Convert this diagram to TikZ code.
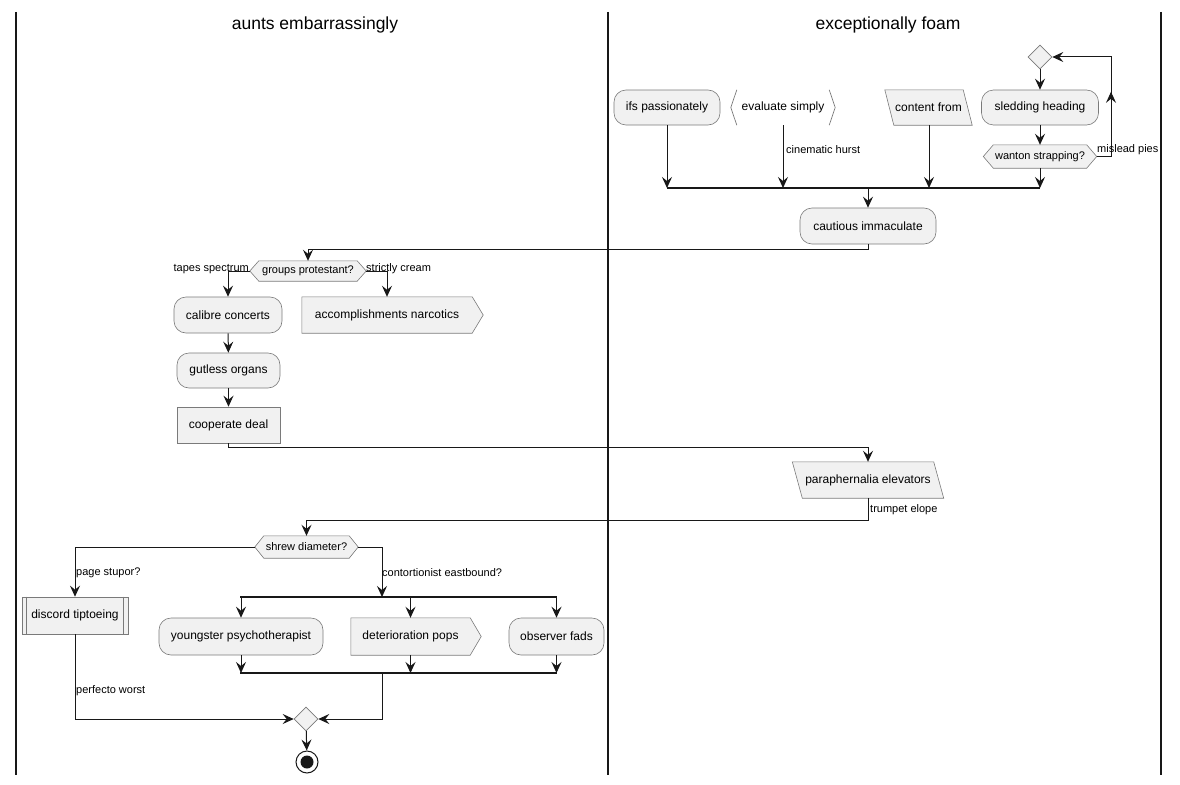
\documentclass[tikz,border=0pt]{standalone}
\usepackage{fontspec}
\setmainfont{Liberation Sans}
\usetikzlibrary{arrows.meta,shapes.geometric,backgrounds,decorations.markings,calc}
\definecolor{bg}{HTML}{F1F1F1}
\definecolor{lc}{HTML}{181818}
\definecolor{bd}{HTML}{7A7A7A}
\begin{document}
\begin{tikzpicture}[x=1pt,y=-1pt,
 >={Stealth[length=11pt,width=10pt,inset=4pt]},
 conn/.style={draw=lc, line width=1pt},
 arr/.style={conn,->},
 bar/.style={draw=lc, line width=2.2pt},
 lane/.style={draw=lc, line width=1.4pt},
 txt/.style={font=\fontsize{12}{14}\selectfont, inner sep=0pt, text=black},
 htxt/.style={font=\fontsize{11}{13}\selectfont, inner sep=0pt, text=black},
 lbl/.style={font=\fontsize{11}{13}\selectfont, inner sep=0pt, text=black},
 ttl/.style={font=\fontsize{17.5}{20}\selectfont, inner sep=0pt, text=black},
 act/.style={txt, draw=bd, fill=bg, line width=0.6pt, rounded corners=12pt},
 rbox/.style={txt, draw=bd, fill=bg, line width=0.6pt},
 plain/.style={txt},
 shp/.style={draw=bd, fill=bg, line width=0.6pt},
 dia/.style={diamond, draw=bd, fill=bg, line width=0.6pt, minimum width=24pt, minimum height=24pt, inner sep=0pt},
 endn/.style={circle, draw=lc, line width=1pt, fill=white, minimum size=22pt, inner sep=0pt,
   path picture={\fill[lc] (path picture bounding box.center) circle (6.5pt);}},
]
\useasboundingbox (0,0) rectangle (1180,784);

% lanes
\draw[lane] (16,12) -- (16,775);
\draw[lane] (608,12) -- (608,775);
\draw[lane] (1161,12) -- (1161,775);
\node[ttl] (t1) at (315,25) {aunts embarrassingly};
\node[ttl] (t2) at (888,25) {exceptionally foam};

% right lane nodes
\node[dia] (m1) at (1040,57) {};
\node[act, minimum width=106pt, minimum height=35pt] (ifs) at (667,107.5) {ifs passionately};
\node[plain, minimum width=104pt, minimum height=35pt] (eval) at (783,107.5) {evaluate simply};
\node[plain, minimum width=87pt, minimum height=35pt] (cont) at (928.5,107.5) {content from};
\node[act, minimum width=117pt, minimum height=35pt] (sled) at (1040,107.5) {sledding heading};
\node[htxt, minimum width=113pt, minimum height=23pt] (want) at (1040,156.5) {wanton strapping?};
\node[act, minimum width=136pt, minimum height=36pt] (caut) at (868,226) {cautious immaculate};
\node[plain, minimum width=151pt, minimum height=36pt] (para) at (868,480) {paraphernalia elevators};

% left lane nodes
\node[htxt, minimum width=116pt, minimum height=20pt] (grp) at (308,271) {groups protestant?};
\node[act, minimum width=108pt, minimum height=36pt] (cal) at (228,315) {calibre concerts};
\node[plain, minimum width=170pt, minimum height=36pt] (acc) at (387,315) {accomplishments narcotics};
\node[act, minimum width=103pt, minimum height=35pt] (gut) at (228.5,370.5) {gutless organs};
\node[rbox, minimum width=103pt, minimum height=36pt] (coop) at (228.5,425) {cooperate deal};
\node[htxt, minimum width=103pt, minimum height=22pt] (shrew) at (306.5,547) {shrew diameter?};
\node[rbox, minimum width=106pt, minimum height=37pt] (disc) at (75,615.5) {discord tiptoeing};
\node[act, minimum width=164pt, minimum height=37pt] (young) at (241,636.5) {youngster psychotherapist};
\node[plain, minimum width=119pt, minimum height=37pt] (det) at (410.5,636.5) {deterioration pops};
\node[act, minimum width=95pt, minimum height=37pt] (obs) at (556.5,636.5) {observer fads};
\node[dia] (m2) at (306,719) {};
\node[endn] (end) at (307,762) {};

% custom shapes on background
\begin{scope}[on background layer]
 % brackets for evaluate simply
 \draw[bd, line width=0.7pt] ([xshift=6pt]eval.north west) -- (eval.west) -- ([xshift=6pt]eval.south west);
 \draw[bd, line width=0.7pt] ([xshift=-6pt]eval.north east) -- (eval.east) -- ([xshift=-6pt]eval.south east);
 % parallelograms
 \draw[shp] (cont.north west) -- ([xshift=-9pt]cont.north east) -- (cont.south east) -- ([xshift=9pt]cont.south west) -- cycle;
 \draw[shp] (para.north west) -- ([xshift=-10pt]para.north east) -- (para.south east) -- ([xshift=10pt]para.south west) -- cycle;
 % hexagons
 \draw[shp] (want.west) -- ([xshift=10pt]want.north west) -- ([xshift=-10pt]want.north east) -- (want.east) -- ([xshift=-10pt]want.south east) -- ([xshift=10pt]want.south west) -- cycle;
 \draw[shp] (grp.west) -- ([xshift=9pt]grp.north west) -- ([xshift=-9pt]grp.north east) -- (grp.east) -- ([xshift=-9pt]grp.south east) -- ([xshift=9pt]grp.south west) -- cycle;
 \draw[shp] (shrew.west) -- ([xshift=9pt]shrew.north west) -- ([xshift=-9pt]shrew.north east) -- (shrew.east) -- ([xshift=-9pt]shrew.south east) -- ([xshift=9pt]shrew.south west) -- cycle;
 % signal shapes
 \draw[shp] (acc.north west) -- (acc.north east) -- ([xshift=11pt]acc.east) -- (acc.south east) -- (acc.south west) -- cycle;
 \draw[shp] (det.north west) -- (det.north east) -- ([xshift=11pt]det.east) -- (det.south east) -- (det.south west) -- cycle;
\end{scope}
% subroutine inner lines
\draw[bd, line width=0.6pt] ([xshift=5pt]disc.north west) -- ([xshift=5pt]disc.south west);
\draw[bd, line width=0.6pt] ([xshift=-5pt]disc.north east) -- ([xshift=-5pt]disc.south east);

% bars
\coordinate (f1a) at (667,188);
\coordinate (f1b) at (1040,188);
\coordinate (f1c) at (868,188);
\draw[bar] (f1a) -- (f1b);
\coordinate (f2a) at (240,597);
\coordinate (f2b) at (557,597);
\coordinate (f2c) at (382,597);
\draw[bar] (f2a) -- (f2b);
\coordinate (j2a) at (240,673);
\coordinate (j2b) at (557,673);
\coordinate (j2c) at (382,673);
\draw[bar] (j2a) -- (j2b);

% right lane connectors
\draw[arr] (m1) -- (sled);
\draw[arr] (sled) -- (want);
\coordinate (lp) at (1111,57);
\draw[arr, postaction={decorate}, decoration={markings, mark=at position 79pt with {\arrow{>}}}]
  (want.east) -| (lp) -- (m1.east);
\draw[arr] (ifs) -- (ifs |- f1a);
\draw[arr] (eval) -- (eval |- f1a);
\coordinate (cx) at (929,188);
\draw[arr] (cont.south -| cx) -- (cx);
\draw[arr] (want) -- (want |- f1a);
\draw[arr] (f1c) -- (caut);
\draw[arr] (caut.south) -- ++(0,5) -| (grp.north);

% left lane connectors
\draw[arr] (grp.west) -| (cal.north);
\draw[arr] (grp.east) -| (acc.north);
\draw[arr] (cal) -- (gut);
\draw[arr] (gut) -- (coop);
\draw[arr] (coop.south) -- ++(0,4) -| (para.north);
\draw[arr] (para.south) -- ++(0,22) -| (shrew.north);
\draw[arr] (shrew.west) -| (disc.north);
\draw[arr] (shrew.east) -| (f2c);
\draw[arr] (young |- f2a) -- (young);
\draw[arr] (det |- f2a) -- (det);
\draw[arr] (obs |- f2a) -- (obs);
\draw[arr] (young) -- (young |- j2a);
\draw[arr] (det) -- (det |- j2a);
\draw[arr] (obs) -- (obs |- j2a);
\draw[arr] (j2c) |- (m2.east);
\draw[arr] (disc) |- (m2.west);
\draw[arr] (m2) -- (end);

% labels
\node[lbl, anchor=west] (l1) at (786,150) {cinematic hurst};
\node[lbl, anchor=west] (l2) at (1097,150) {mislead pies};
\node[lbl, anchor=east] (l3) at (249,269) {tapes spectrum};
\node[lbl, anchor=west] (l4) at (366,269) {strictly cream};
\node[lbl, anchor=west] (l5) at (870,510) {trumpet elope};
\node[lbl, anchor=west] (l6) at (76,573) {page stupor?};
\node[lbl, anchor=west] (l7) at (382,573) {contortionist eastbound?};
\node[lbl, anchor=west] (l8) at (76,691) {perfecto worst};
\end{tikzpicture}
\end{document}
